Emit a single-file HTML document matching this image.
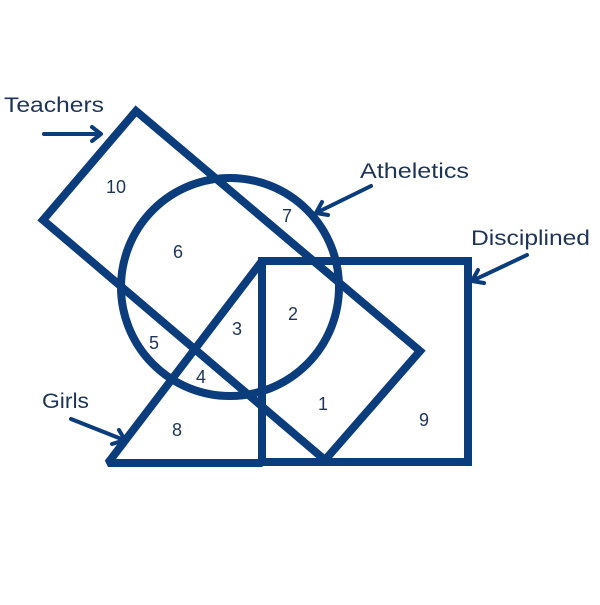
<!DOCTYPE html>
<html><head><style>html,body{margin:0;padding:0;background:#fff}</style></head>
<body>
<svg width="600" height="600" viewBox="0 0 600 600" xmlns="http://www.w3.org/2000/svg">
<rect width="600" height="600" fill="#fff"/>
<g fill="none" stroke="#0b3c7b" stroke-width="8" stroke-linejoin="miter">
<polygon points="136,111 43,220 325,460 420,351"/>
<circle cx="230" cy="287" r="109"/>
<rect x="262" y="261" width="206" height="201"/>
<polygon points="262,261 108,463 262,463" stroke-linejoin="bevel"/>
</g>
<g fill="none" stroke="#0b3c7b" stroke-width="4" stroke-linecap="round" stroke-linejoin="round">
<line x1="44" y1="134" x2="100" y2="134"/><polyline points="92,127 101,134 92,141"/>
<line x1="371" y1="186" x2="318" y2="212"/><polyline points="322,202 316,213 328,215"/>
<line x1="527" y1="255" x2="474" y2="280"/><polyline points="478,270 472,281 484,283"/>
<line x1="71" y1="419" x2="124" y2="440"/><polyline points="112,444 125,440 119,430"/>
</g>
<g font-family="Liberation Sans, sans-serif" font-size="21" fill="#1c3557">
<text x="4" y="112" textLength="100" lengthAdjust="spacingAndGlyphs">Teachers</text>
<text x="360" y="178" textLength="109" lengthAdjust="spacingAndGlyphs">Atheletics</text>
<text x="471" y="245" textLength="119" lengthAdjust="spacingAndGlyphs">Disciplined</text>
<text x="42" y="408" textLength="47" lengthAdjust="spacingAndGlyphs">Girls</text>
</g>
<g font-family="Liberation Sans, sans-serif" font-size="18" fill="#1c3557" text-anchor="middle">
<text x="116" y="193">10</text>
<text x="178" y="258">6</text>
<text x="287" y="222">7</text>
<text x="293" y="320">2</text>
<text x="237" y="335">3</text>
<text x="154" y="349">5</text>
<text x="201" y="383">4</text>
<text x="323" y="410">1</text>
<text x="424" y="426">9</text>
<text x="177" y="436">8</text>
</g>
</svg>
</body></html>
